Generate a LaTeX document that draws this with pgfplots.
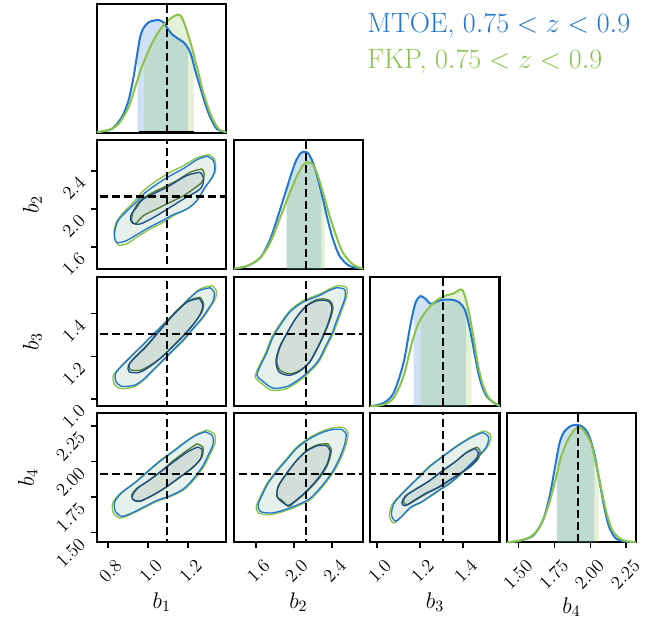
\RequirePackage{fix-cm}
\documentclass[border=0pt]{standalone}
\usepackage{pgfplots}
\pgfplotsset{compat=1.18}
\definecolor{mtoe}{HTML}{2176D2}
\definecolor{fkp}{HTML}{8BC34A}
\definecolor{mtoedark}{HTML}{1D4E89}
\definecolor{fkpdark}{HTML}{527A2B}
\pgfplotsset{
  cp/.style={scale only axis, width=97pt, height=97pt, anchor=north west,
    axis line style={line width=1.6pt}, tick style={line width=1.2pt, black},
    major tick length=4.5pt, tick align=outside, tick pos=left,
    xtick=\empty, ytick=\empty,
    tick label style={font=\fontsize{14}{16}\selectfont},
    xticklabel style={rotate=45, anchor=north east, xshift=1.5pt, yshift=-5pt},
    yticklabel style={rotate=45, anchor=east, xshift=-6pt},
    label style={font=\fontsize{17}{20}\selectfont},
    xlabel style={at={(axis description cs:0.5,-0.46)}, anchor=center},
    ylabel style={at={(axis description cs:-0.5,0.5)}, anchor=center},
  },
  dg/.style={cp, ymin=0, ymax=1.1},
  bl/.style={mtoe, line width=1.5pt, smooth, tension=0.5},
  gl/.style={fkp, line width=1.5pt, smooth, tension=0.5},
  bs/.style={fill=mtoe, fill opacity=0.22, draw=none},
  gs/.style={fill=fkp, fill opacity=0.22, draw=none},
  truth/.style={black, line width=1.7pt, dash pattern=on 6pt off 3pt},
  go/.style={draw=fkp, line width=1pt, fill=fkp, fill opacity=0.1, smooth, tension=0.5},
  bo/.style={draw=mtoe, line width=1pt, fill=mtoe, fill opacity=0.06, smooth, tension=0.5},
  gi/.style={draw=fkpdark, line width=1pt, fill=fkpdark, fill opacity=0.07, smooth, tension=0.5},
  bi/.style={draw=mtoedark, line width=1pt, fill=mtoedark, fill opacity=0.06, smooth, tension=0.5},
}
\begin{document}
\begin{tikzpicture}
\useasboundingbox (0pt,0pt) rectangle (498.75pt,-465.75pt);

% ---------- (1,1) b1 marginal
\begin{axis}[dg, at={(72.75pt,-3pt)}, xmin=0.745, xmax=1.39]
\addplot[bs] coordinates {(0.948,0)(0.948,0.696)(0.96,0.817)(0.977,0.896)(1.002,0.944)(1.027,0.958)(1.052,0.964)(1.077,0.944)(1.093,0.902)(1.118,0.845)(1.152,0.802)(1.177,0.774)(1.20,0.722)(1.20,0)} -- cycle;
\addplot[gs] coordinates {(0.98,0)(0.98,0.611)(1.002,0.703)(1.035,0.817)(1.068,0.902)(1.102,0.964)(1.135,1.001)(1.152,1.009)(1.168,0.987)(1.193,0.873)(1.218,0.731)(1.228,0.665)(1.228,0)} -- cycle;
\addplot[bl] coordinates {(0.743,0.009)(0.818,0.037)(0.868,0.136)(0.902,0.278)(0.927,0.476)(0.943,0.646)(0.96,0.817)(0.977,0.896)(1.002,0.944)(1.027,0.958)(1.052,0.964)(1.077,0.944)(1.093,0.902)(1.118,0.845)(1.152,0.802)(1.177,0.774)(1.202,0.717)(1.218,0.646)(1.235,0.533)(1.26,0.391)(1.285,0.25)(1.31,0.136)(1.343,0.037)(1.393,0.009)};
\addplot[gl] coordinates {(0.743,0.009)(0.802,0.028)(0.852,0.079)(0.902,0.221)(0.935,0.391)(0.968,0.561)(1.002,0.703)(1.035,0.817)(1.068,0.902)(1.102,0.964)(1.135,1.001)(1.152,1.009)(1.168,0.987)(1.193,0.873)(1.218,0.731)(1.235,0.618)(1.252,0.505)(1.268,0.391)(1.293,0.25)(1.318,0.136)(1.352,0.037)(1.393,0.009)};
\addplot[black, line width=4pt] coordinates {(0.952,0) (1.227,0)};
\addplot[truth] coordinates {(1.095,0) (1.095,1.1)};
\end{axis}

% ---------- (2,1) b1-b2
\begin{axis}[cp, at={(72.75pt,-105pt)}, xmin=0.745, xmax=1.39, ymin=1.365, ymax=2.725,
  ytick={1.6,2.0,2.4}, yticklabels={1.6,2.0,2.4}, ylabel={$b_2$}]
\addplot[go] coordinates {(1.302,2.572)(1.330,2.526)(1.337,2.421)(1.323,2.340)(1.285,2.228)(1.243,2.088)(1.193,2.0)(1.127,1.930)(1.077,1.860)(1.010,1.789)(0.943,1.702)(0.893,1.632)(0.852,1.621)(0.835,1.684)(0.830,1.772)(0.843,1.870)(0.877,1.965)(0.927,2.070)(0.977,2.193)(1.043,2.298)(1.110,2.386)(1.177,2.456)(1.243,2.537)(1.302,2.572)};
\addplot[bo] coordinates {(1.295,2.555)(1.325,2.51)(1.333,2.41)(1.318,2.33)(1.28,2.215)(1.24,2.08)(1.19,1.995)(1.125,1.94)(1.07,1.875)(1.0,1.80)(0.94,1.725)(0.89,1.665)(0.845,1.645)(0.832,1.70)(0.835,1.78)(0.85,1.875)(0.885,1.96)(0.935,2.06)(0.985,2.17)(1.05,2.27)(1.115,2.355)(1.18,2.43)(1.245,2.52)(1.295,2.555)};
\addplot[gi] coordinates {(1.268,2.421)(1.28,2.368)(1.268,2.281)(1.227,2.211)(1.177,2.140)(1.110,2.070)(1.043,2.0)(0.977,1.930)(0.935,1.842)(0.918,1.877)(0.927,1.982)(0.96,2.088)(1.01,2.158)(1.077,2.228)(1.143,2.298)(1.21,2.386)(1.268,2.421)};
\addplot[bi] coordinates {(1.26,2.386)(1.277,2.316)(1.26,2.211)(1.177,2.105)(1.043,1.930)(0.96,1.842)(0.918,1.860)(0.913,1.930)(0.943,2.018)(0.977,2.105)(1.093,2.228)(1.193,2.351)(1.26,2.386)};
\addplot[truth] coordinates {(1.095,1.3) (1.095,2.8)};
\addplot[truth] coordinates {(0.7,2.13) (1.4,2.13)};
\end{axis}

% ---------- (2,2) b2 marginal
\begin{axis}[dg, at={(175.2pt,-105pt)}, xmin=1.365, xmax=2.725]
\addplot[bs] coordinates {(1.923,0)(1.923,0.686)(1.941,0.733)(2.010,0.903)(2.063,0.982)(2.104,1.0)(2.150,0.987)(2.202,0.903)(2.254,0.762)(2.289,0.648)(2.289,0)} -- cycle;
\addplot[gs] coordinates {(1.923,0)(1.923,0.583)(1.941,0.621)(2.028,0.790)(2.097,0.889)(2.150,0.911)(2.202,0.889)(2.254,0.790)(2.306,0.649)(2.324,0.598)(2.324,0)} -- cycle;
\addplot[bl] coordinates {(1.367,0.006)(1.506,0.028)(1.645,0.099)(1.749,0.254)(1.854,0.508)(1.941,0.733)(2.010,0.903)(2.063,0.982)(2.104,1.0)(2.150,0.987)(2.202,0.903)(2.254,0.762)(2.306,0.592)(2.358,0.409)(2.411,0.254)(2.480,0.113)(2.585,0.028)(2.724,0.006)};
\addplot[gl] coordinates {(1.367,0.006)(1.506,0.028)(1.645,0.099)(1.749,0.226)(1.854,0.437)(1.941,0.621)(2.028,0.790)(2.097,0.889)(2.150,0.911)(2.202,0.889)(2.254,0.790)(2.306,0.649)(2.376,0.451)(2.445,0.282)(2.515,0.141)(2.619,0.042)(2.724,0.006)};
\addplot[truth] coordinates {(2.125,0) (2.125,1.1)};
\end{axis}

% ---------- (3,1) b1-b3
\begin{axis}[cp, at={(72.75pt,-207.75pt)}, xmin=0.745, xmax=1.39, ymin=0.967, ymax=1.570,
  ytick={1.0,1.2,1.4}, yticklabels={1.0,1.2,1.4}, ylabel={$b_3$}]
\addplot[go] coordinates {(1.318,1.530)(1.34,1.507)(1.335,1.468)(1.31,1.429)(1.277,1.383)(1.227,1.329)(1.177,1.274)(1.127,1.228)(1.077,1.181)(1.027,1.135)(0.977,1.088)(0.927,1.057)(0.86,1.050)(0.83,1.073)(0.827,1.112)(0.86,1.150)(0.91,1.197)(0.96,1.243)(1.01,1.290)(1.06,1.336)(1.11,1.383)(1.16,1.429)(1.21,1.476)(1.26,1.515)(1.318,1.530)};
\addplot[bo] coordinates {(1.309,1.520)(1.330,1.498)(1.325,1.461)(1.301,1.423)(1.269,1.379)(1.221,1.327)(1.173,1.275)(1.125,1.230)(1.077,1.185)(1.029,1.141)(0.981,1.096)(0.933,1.066)(0.869,1.060)(0.840,1.082)(0.837,1.119)(0.869,1.156)(0.917,1.201)(0.965,1.245)(1.013,1.290)(1.061,1.334)(1.109,1.379)(1.157,1.423)(1.205,1.469)(1.253,1.506)(1.309,1.520)};
\addplot[gi] coordinates {(1.26,1.476)(1.277,1.445)(1.268,1.406)(1.227,1.352)(1.177,1.298)(1.127,1.251)(1.068,1.197)(1.01,1.158)(0.96,1.135)(0.91,1.138)(0.907,1.166)(0.935,1.197)(0.993,1.251)(1.043,1.305)(1.093,1.360)(1.143,1.414)(1.202,1.460)(1.26,1.476)};
\addplot[bi] coordinates {(1.255,1.47)(1.272,1.44)(1.262,1.40)(1.222,1.345)(1.17,1.29)(1.12,1.243)(1.06,1.19)(1.005,1.15)(0.955,1.125)(0.905,1.128)(0.902,1.158)(0.93,1.19)(0.99,1.245)(1.04,1.30)(1.09,1.355)(1.14,1.408)(1.198,1.455)(1.255,1.47)};
\addplot[truth] coordinates {(1.095,0.9) (1.095,1.6)};
\addplot[truth] coordinates {(0.7,1.305) (1.4,1.305)};
\end{axis}

% ---------- (3,2) b2-b3
\begin{axis}[cp, at={(175.2pt,-207.75pt)}, xmin=1.365, xmax=2.725, ymin=0.967, ymax=1.570]
\addplot[go] coordinates {(2.463,1.530)(2.55,1.522)(2.557,1.484)(2.515,1.429)(2.463,1.367)(2.411,1.305)(2.341,1.243)(2.271,1.181)(2.184,1.135)(2.063,1.088)(1.923,1.050)(1.767,1.042)(1.662,1.073)(1.593,1.104)(1.628,1.150)(1.697,1.212)(1.767,1.290)(1.854,1.352)(1.958,1.414)(2.097,1.460)(2.271,1.491)(2.376,1.515)(2.463,1.530)};
\addplot[bo] coordinates {(2.447,1.520)(2.531,1.513)(2.538,1.476)(2.497,1.423)(2.447,1.364)(2.397,1.304)(2.330,1.245)(2.263,1.185)(2.179,1.141)(2.063,1.096)(1.929,1.060)(1.779,1.052)(1.678,1.082)(1.612,1.111)(1.646,1.156)(1.712,1.215)(1.779,1.290)(1.863,1.350)(1.962,1.409)(2.096,1.453)(2.263,1.483)(2.364,1.506)(2.447,1.520)};
\addplot[gi] coordinates {(2.306,1.468)(2.376,1.460)(2.411,1.429)(2.376,1.367)(2.306,1.290)(2.237,1.228)(2.167,1.174)(2.063,1.135)(1.958,1.119)(1.854,1.135)(1.819,1.181)(1.854,1.243)(1.923,1.305)(2.028,1.383)(2.132,1.437)(2.237,1.464)(2.306,1.468)};
\addplot[bi] coordinates {(2.30,1.462)(2.37,1.455)(2.40,1.425)(2.365,1.362)(2.295,1.285)(2.225,1.222)(2.155,1.168)(2.05,1.128)(1.95,1.112)(1.845,1.126)(1.81,1.175)(1.845,1.24)(1.915,1.30)(2.02,1.378)(2.125,1.432)(2.23,1.458)(2.30,1.462)};
\addplot[truth] coordinates {(2.125,0.9) (2.125,1.6)};
\addplot[truth] coordinates {(1.3,1.305) (2.8,1.305)};
\end{axis}

% ---------- (3,3) b3 marginal
\begin{axis}[dg, at={(277.65pt,-207.75pt)}, xmin=0.967, xmax=1.570]
\addplot[bs] coordinates {(1.169,0)(1.169,0.808)(1.177,0.874)(1.2,0.937)(1.223,0.917)(1.247,0.874)(1.270,0.883)(1.293,0.903)(1.340,0.908)(1.378,0.889)(1.409,0.818)(1.414,0.783)(1.414,0)} -- cycle;
\addplot[gs] coordinates {(1.203,0)(1.203,0.737)(1.231,0.818)(1.278,0.903)(1.324,0.945)(1.355,0.959)(1.386,0.993)(1.402,0.973)(1.425,0.818)(1.44,0.671)(1.44,0)} -- cycle;
\addplot[bl] coordinates {(0.967,0)(1.029,0.028)(1.076,0.113)(1.122,0.367)(1.153,0.677)(1.177,0.874)(1.2,0.937)(1.223,0.917)(1.247,0.874)(1.270,0.883)(1.293,0.903)(1.340,0.908)(1.378,0.889)(1.409,0.818)(1.433,0.649)(1.456,0.423)(1.479,0.226)(1.510,0.085)(1.557,0.014)(1.572,0)};
\addplot[gl] coordinates {(0.967,0)(1.029,0.014)(1.076,0.071)(1.122,0.254)(1.161,0.536)(1.192,0.705)(1.231,0.818)(1.278,0.903)(1.324,0.945)(1.355,0.959)(1.386,0.993)(1.402,0.973)(1.425,0.818)(1.448,0.592)(1.471,0.339)(1.495,0.169)(1.526,0.056)(1.572,0.006)};
\addplot[truth] coordinates {(1.305,0) (1.305,1.1)};
\end{axis}

% ---------- (4,1) b1-b4
\begin{axis}[cp, at={(72.75pt,-309.75pt)}, xmin=0.745, xmax=1.39, ymin=1.431, ymax=2.34,
  xtick={0.8,1.0,1.2}, xticklabels={0.8,1.0,1.2}, xlabel={$b_1$},
  ytick={1.50,1.75,2.00,2.25}, yticklabels={1.50,1.75,2.00,2.25}, ylabel={$b_4$},
  ylabel style={at={(axis description cs:-0.535,0.5)}}]
\addplot[go] coordinates {(1.293,2.220)(1.33,2.192)(1.335,2.134)(1.31,2.053)(1.277,1.961)(1.227,1.868)(1.177,1.799)(1.11,1.752)(1.043,1.718)(0.977,1.671)(0.91,1.625)(0.86,1.602)(0.827,1.637)(0.823,1.706)(0.86,1.775)(0.927,1.845)(0.993,1.926)(1.06,2.007)(1.127,2.076)(1.193,2.146)(1.243,2.192)(1.293,2.220)};
\addplot[bo] coordinates {(1.285,2.208)(1.320,2.181)(1.325,2.125)(1.301,2.047)(1.269,1.959)(1.221,1.870)(1.173,1.803)(1.109,1.758)(1.045,1.726)(0.981,1.681)(0.917,1.636)(0.869,1.614)(0.837,1.648)(0.833,1.714)(0.869,1.780)(0.933,1.848)(0.996,1.925)(1.061,2.003)(1.125,2.069)(1.188,2.137)(1.236,2.181)(1.285,2.208)};
\addplot[gi] coordinates {(1.243,2.123)(1.273,2.100)(1.268,2.030)(1.227,1.961)(1.16,1.891)(1.093,1.822)(1.027,1.764)(0.96,1.718)(0.927,1.729)(0.918,1.764)(0.943,1.810)(0.993,1.856)(1.06,1.926)(1.127,2.007)(1.193,2.076)(1.243,2.123)};
\addplot[bi] coordinates {(1.245,2.10)(1.268,2.085)(1.262,2.02)(1.22,1.955)(1.155,1.885)(1.085,1.815)(1.02,1.76)(0.955,1.72)(0.922,1.735)(0.925,1.77)(0.95,1.815)(1.0,1.862)(1.065,1.93)(1.13,2.0)(1.195,2.065)(1.245,2.10)};
\addplot[truth] coordinates {(1.095,1.4) (1.095,2.4)};
\addplot[truth] coordinates {(0.7,1.91) (1.4,1.91)};
\end{axis}

% ---------- (4,2) b2-b4
\begin{axis}[cp, at={(175.2pt,-309.75pt)}, xmin=1.365, xmax=2.725, ymin=1.431, ymax=2.34,
  xtick={1.6,2.0,2.4}, xticklabels={1.6,2.0,2.4}, xlabel={$b_2$}]
\addplot[go] coordinates {(2.515,2.238)(2.567,2.204)(2.55,2.123)(2.498,2.030)(2.428,1.938)(2.341,1.856)(2.271,1.799)(2.167,1.729)(2.028,1.683)(1.889,1.648)(1.749,1.625)(1.628,1.637)(1.603,1.683)(1.645,1.752)(1.715,1.845)(1.819,1.938)(1.923,2.019)(2.028,2.100)(2.167,2.169)(2.306,2.215)(2.428,2.238)(2.515,2.238)};
\addplot[bo] coordinates {(2.498,2.225)(2.548,2.193)(2.531,2.115)(2.481,2.026)(2.414,1.937)(2.331,1.859)(2.263,1.804)(2.164,1.737)(2.030,1.692)(1.897,1.659)(1.762,1.637)(1.646,1.648)(1.622,1.692)(1.662,1.759)(1.730,1.848)(1.829,1.937)(1.929,2.015)(2.030,2.093)(2.164,2.159)(2.297,2.203)(2.414,2.225)(2.498,2.225)};
\addplot[gi] coordinates {(2.358,2.123)(2.393,2.076)(2.358,1.984)(2.289,1.903)(2.202,1.833)(2.097,1.764)(1.993,1.706)(1.941,1.683)(1.871,1.729)(1.819,1.752)(1.836,1.822)(1.923,1.914)(2.028,2.007)(2.132,2.076)(2.254,2.118)(2.358,2.123)};
\addplot[bi] coordinates {(2.345,2.11)(2.38,2.07)(2.35,1.985)(2.28,1.905)(2.195,1.835)(2.09,1.765)(1.99,1.71)(1.935,1.69)(1.865,1.72)(1.825,1.75)(1.83,1.82)(1.915,1.91)(2.02,2.0)(2.125,2.068)(2.245,2.11)(2.345,2.11)};
\addplot[truth] coordinates {(2.125,1.4) (2.125,2.4)};
\addplot[truth] coordinates {(1.3,1.91) (2.8,1.91)};
\end{axis}

% ---------- (4,3) b3-b4
\begin{axis}[cp, at={(277.65pt,-309.75pt)}, xmin=0.967, xmax=1.570, ymin=1.431, ymax=2.34,
  xtick={1.0,1.2,1.4}, xticklabels={1.0,1.2,1.4}, xlabel={$b_3$}]
\addplot[go] coordinates {(1.502,2.215)(1.529,2.181)(1.518,2.111)(1.479,2.042)(1.433,1.972)(1.386,1.903)(1.340,1.845)(1.293,1.799)(1.247,1.752)(1.2,1.706)(1.153,1.671)(1.107,1.602)(1.076,1.567)(1.057,1.613)(1.068,1.694)(1.107,1.764)(1.153,1.833)(1.2,1.903)(1.247,1.972)(1.309,2.042)(1.371,2.111)(1.433,2.169)(1.479,2.204)(1.502,2.215)};
\addplot[bo] coordinates {(1.494,2.202)(1.519,2.170)(1.509,2.103)(1.471,2.036)(1.427,1.969)(1.382,1.903)(1.338,1.847)(1.293,1.803)(1.249,1.758)(1.204,1.714)(1.158,1.680)(1.114,1.614)(1.085,1.580)(1.066,1.624)(1.077,1.702)(1.114,1.769)(1.158,1.836)(1.204,1.903)(1.249,1.969)(1.308,2.036)(1.368,2.103)(1.427,2.158)(1.471,2.192)(1.494,2.202)};
\addplot[gi] coordinates {(1.464,2.100)(1.479,2.076)(1.471,2.019)(1.433,1.961)(1.386,1.914)(1.340,1.868)(1.293,1.822)(1.231,1.775)(1.169,1.718)(1.138,1.694)(1.122,1.718)(1.138,1.764)(1.184,1.810)(1.247,1.868)(1.309,1.938)(1.371,2.007)(1.417,2.065)(1.464,2.100)};
\addplot[bi] coordinates {(1.455,2.09)(1.47,2.065)(1.462,2.01)(1.425,1.955)(1.378,1.908)(1.33,1.862)(1.28,1.815)(1.22,1.77)(1.16,1.715)(1.13,1.688)(1.115,1.705)(1.13,1.755)(1.178,1.802)(1.24,1.86)(1.30,1.93)(1.362,1.995)(1.41,2.055)(1.455,2.09)};
\addplot[truth] coordinates {(1.305,1.4) (1.305,2.4)};
\addplot[truth] coordinates {(0.9,1.91) (1.6,1.91)};
\end{axis}

% ---------- (4,4) b4 marginal
\begin{axis}[dg, at={(380.1pt,-309.75pt)}, xmin=1.417, xmax=2.32,
  xtick={1.50,1.75,2.00,2.25}, xticklabels={1.50,1.75,2.00,2.25}, xlabel={$b_4$},
  xlabel style={at={(axis description cs:0.5,-0.5)}}]
\addplot[bs] coordinates {(1.766,0)(1.766,0.719)(1.785,0.843)(1.819,0.943)(1.866,0.991)(1.912,1.0)(1.958,0.971)(1.993,0.9)(2.028,0.757)(2.028,0)} -- cycle;
\addplot[gs] coordinates {(1.766,0)(1.766,0.580)(1.796,0.729)(1.843,0.871)(1.889,0.957)(1.924,0.98)(1.958,0.943)(2.005,0.843)(2.039,0.671)(2.058,0.562)(2.058,0)} -- cycle;
\addplot[bl] coordinates {(1.414,0)(1.507,0.014)(1.600,0.057)(1.669,0.186)(1.715,0.386)(1.75,0.614)(1.785,0.843)(1.819,0.943)(1.866,0.991)(1.912,1.0)(1.958,0.971)(1.993,0.9)(2.028,0.757)(2.063,0.529)(2.097,0.3)(2.132,0.129)(2.178,0.034)(2.248,0.006)(2.322,0)};
\addplot[gl] coordinates {(1.414,0)(1.484,0.009)(1.576,0.043)(1.646,0.129)(1.704,0.3)(1.75,0.5)(1.796,0.729)(1.843,0.871)(1.889,0.957)(1.924,0.98)(1.958,0.943)(2.005,0.843)(2.039,0.671)(2.074,0.471)(2.109,0.271)(2.155,0.1)(2.225,0.02)(2.322,0)};
\addplot[truth] coordinates {(1.915,0) (1.915,1.1)};
\end{axis}

\node[anchor=base west, inner sep=0pt, text=mtoe, font=\fontsize{21}{24}\selectfont] at (275.25pt,-24pt) {MTOE, $0.75 < z < 0.9$};
\node[anchor=base west, inner sep=0pt, text=fkp, font=\fontsize{21}{24}\selectfont] at (275.25pt,-51pt) {FKP, $0.75 < z < 0.9$};
\end{tikzpicture}
\end{document}
